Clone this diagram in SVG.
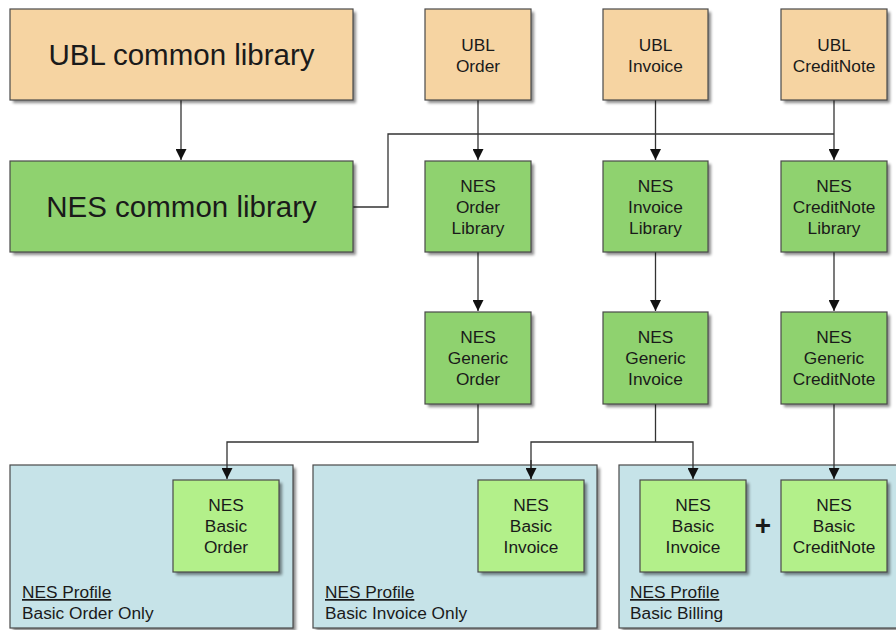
<svg xmlns="http://www.w3.org/2000/svg" width="896" height="630" viewBox="0 0 896 630">
<style>
text{font-family:"Liberation Sans",Arial,sans-serif;fill:#1a1a1a;text-anchor:middle}
.big{font-size:29.5px}
.sm{font-size:17.3px}
.lbl{font-size:17.3px;text-anchor:start}
.ubl{fill:#f6d4a2;stroke:#4a4a4a;stroke-width:1.2}
.nes{fill:#8fd26f;stroke:#4a4a4a;stroke-width:1.2}
.bas{fill:#b3f08a;stroke:#4a4a4a;stroke-width:1.2}
.pan{fill:#c6e3e8;stroke:#4a4a4a;stroke-width:1.2}
.sh{fill:#000;opacity:0.45;filter:url(#blur)}
.ln{fill:none;stroke:#333;stroke-width:1.3}
</style>
<defs>
<filter id="blur" x="-10%" y="-10%" width="130%" height="130%"><feGaussianBlur stdDeviation="1.5"/></filter>
<marker id="ah" viewBox="0 0 10 10" refX="10" refY="5" markerWidth="11" markerHeight="11" orient="auto" markerUnits="userSpaceOnUse"><path d="M0,0 L10,5 L0,10 z" fill="#111"/></marker>
</defs>
<rect width="896" height="630" fill="#fff"/>

<g id="panel-order">
<rect class="sh" x="13" y="468" width="283" height="163"/>
<rect class="pan" x="10" y="465" width="283" height="163"/>
<text class="lbl" x="22" y="598" text-decoration="underline">NES Profile</text>
<text class="lbl" x="22" y="619">Basic Order Only</text>
</g>
<g id="panel-invoice">
<rect class="sh" x="316" y="468" width="284" height="163"/>
<rect class="pan" x="313" y="465" width="284" height="163"/>
<text class="lbl" x="325" y="598" text-decoration="underline">NES Profile</text>
<text class="lbl" x="325" y="619">Basic Invoice Only</text>
</g>
<g id="panel-billing">
<rect class="sh" x="622" y="468" width="284" height="163"/>
<rect class="pan" x="619" y="465" width="284" height="163"/>
<text class="lbl" x="630" y="598" text-decoration="underline">NES Profile</text>
<text class="lbl" x="630" y="619">Basic Billing</text>
</g>

<g id="connectors">
<line class="ln" x1="181" y1="100" x2="181" y2="160" marker-end="url(#ah)"/>
<polyline class="ln" points="353,207 388,207 388,134 834,134"/>
<line class="ln" x1="478" y1="100" x2="478" y2="160" marker-end="url(#ah)"/>
<line class="ln" x1="655.5" y1="100" x2="655.5" y2="160" marker-end="url(#ah)"/>
<line class="ln" x1="834" y1="100" x2="834" y2="160" marker-end="url(#ah)"/>
<line class="ln" x1="478" y1="252" x2="478" y2="311" marker-end="url(#ah)"/>
<line class="ln" x1="655.5" y1="252" x2="655.5" y2="311" marker-end="url(#ah)"/>
<line class="ln" x1="834" y1="252" x2="834" y2="311" marker-end="url(#ah)"/>
<polyline class="ln" points="478,404 478,442 227,442 227,479" marker-end="url(#ah)"/>
<polyline class="ln" points="655.5,404 655.5,442"/>
<polyline class="ln" points="531,479 531,442 693,442 693,479" marker-end="url(#ah)"/>
<line class="ln" x1="531" y1="460" x2="531" y2="479" marker-end="url(#ah)"/>
<line class="ln" x1="834" y1="404" x2="834" y2="479" marker-end="url(#ah)"/>
</g>

<g id="ubl-common">
<rect class="sh" x="13" y="12" width="343" height="91"/>
<rect class="ubl" x="10" y="9" width="343" height="91"/>
<text class="big" x="181.5" y="65">UBL common library</text>
</g>
<g id="nes-common">
<rect class="sh" x="13" y="164" width="343" height="91"/>
<rect class="nes" x="10" y="161" width="343" height="91"/>
<text class="big" x="181.5" y="217">NES common library</text>
</g>

<g id="ubl-order">
<rect class="sh" x="428" y="12" width="106" height="91"/>
<rect class="ubl" x="425" y="9" width="106" height="91"/>
<text class="sm" x="478" y="51">UBL</text><text class="sm" x="478" y="72">Order</text>
</g>
<g id="ubl-invoice">
<rect class="sh" x="606" y="12" width="105" height="91"/>
<rect class="ubl" x="603" y="9" width="105" height="91"/>
<text class="sm" x="655.5" y="51">UBL</text><text class="sm" x="655.5" y="72">Invoice</text>
</g>
<g id="ubl-creditnote">
<rect class="sh" x="784" y="12" width="106" height="91"/>
<rect class="ubl" x="781" y="9" width="106" height="91"/>
<text class="sm" x="834" y="51">UBL</text><text class="sm" x="834" y="72">CreditNote</text>
</g>

<g id="nes-order-lib">
<rect class="sh" x="428" y="164" width="106" height="91"/>
<rect class="nes" x="425" y="161" width="106" height="91"/>
<text class="sm" x="478" y="192">NES</text><text class="sm" x="478" y="213">Order</text><text class="sm" x="478" y="234">Library</text>
</g>
<g id="nes-invoice-lib">
<rect class="sh" x="606" y="164" width="105" height="91"/>
<rect class="nes" x="603" y="161" width="105" height="91"/>
<text class="sm" x="655.5" y="192">NES</text><text class="sm" x="655.5" y="213">Invoice</text><text class="sm" x="655.5" y="234">Library</text>
</g>
<g id="nes-creditnote-lib">
<rect class="sh" x="784" y="164" width="106" height="91"/>
<rect class="nes" x="781" y="161" width="106" height="91"/>
<text class="sm" x="834" y="192">NES</text><text class="sm" x="834" y="213">CreditNote</text><text class="sm" x="834" y="234">Library</text>
</g>

<g id="nes-generic-order">
<rect class="sh" x="428" y="315" width="106" height="92"/>
<rect class="nes" x="425" y="312" width="106" height="92"/>
<text class="sm" x="478" y="343">NES</text><text class="sm" x="478" y="364">Generic</text><text class="sm" x="478" y="385">Order</text>
</g>
<g id="nes-generic-invoice">
<rect class="sh" x="606" y="315" width="105" height="92"/>
<rect class="nes" x="603" y="312" width="105" height="92"/>
<text class="sm" x="655.5" y="343">NES</text><text class="sm" x="655.5" y="364">Generic</text><text class="sm" x="655.5" y="385">Invoice</text>
</g>
<g id="nes-generic-creditnote">
<rect class="sh" x="784" y="315" width="106" height="92"/>
<rect class="nes" x="781" y="312" width="106" height="92"/>
<text class="sm" x="834" y="343">NES</text><text class="sm" x="834" y="364">Generic</text><text class="sm" x="834" y="385">CreditNote</text>
</g>

<g id="nes-basic-order">
<rect class="sh" x="176" y="483" width="106" height="92"/>
<rect class="bas" x="173" y="480" width="106" height="92"/>
<text class="sm" x="226" y="511">NES</text><text class="sm" x="226" y="532">Basic</text><text class="sm" x="226" y="553">Order</text>
</g>
<g id="nes-basic-invoice-1">
<rect class="sh" x="481" y="483" width="106" height="92"/>
<rect class="bas" x="478" y="480" width="106" height="92"/>
<text class="sm" x="531" y="511">NES</text><text class="sm" x="531" y="532">Basic</text><text class="sm" x="531" y="553">Invoice</text>
</g>
<g id="nes-basic-invoice-2">
<rect class="sh" x="643" y="483" width="106" height="92"/>
<rect class="bas" x="640" y="480" width="106" height="92"/>
<text class="sm" x="693" y="511">NES</text><text class="sm" x="693" y="532">Basic</text><text class="sm" x="693" y="553">Invoice</text>
</g>
<g id="plus">
<text x="763" y="535" style="font-size:28px;font-weight:bold">+</text>
</g>
<g id="nes-basic-creditnote">
<rect class="sh" x="784" y="483" width="106" height="92"/>
<rect class="bas" x="781" y="480" width="106" height="92"/>
<text class="sm" x="834" y="511">NES</text><text class="sm" x="834" y="532">Basic</text><text class="sm" x="834" y="553">CreditNote</text>
</g>
</svg>
